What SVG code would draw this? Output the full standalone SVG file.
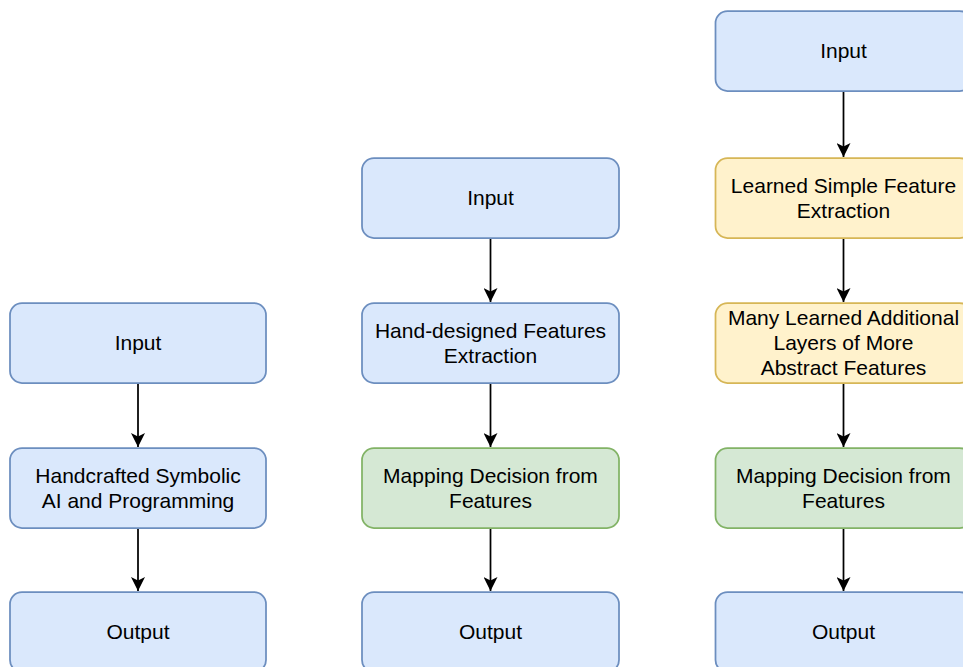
<svg xmlns="http://www.w3.org/2000/svg" width="963" height="667" viewBox="0 0 963 667">
  <style>
    .box { stroke-width: 1.75; }
    .blue { fill: #dae8fc; stroke: #6c8ebf; }
    .yellow { fill: #fff2cc; stroke: #d6b656; }
    .green { fill: #d5e8d4; stroke: #82b366; }
    text { font-family: "Liberation Sans", Arial, Helvetica, sans-serif; font-size: 21px; fill: #000000; text-anchor: middle; }
    .edge { stroke: #000000; stroke-width: 1.75; fill: none; marker-end: url(#arrow); }
  </style>
  <defs>
    <marker id="arrow" viewBox="0 0 14 14" refX="14" refY="7" markerWidth="14" markerHeight="14" markerUnits="userSpaceOnUse" orient="auto">
      <path d="M0,0 L14,7 L0,14 L3.5,7 Z" fill="#000000"/>
    </marker>
  </defs>

  <rect width="963" height="667" fill="#ffffff"/>

  <!-- connectors -->
  <g id="edges">
    <line class="edge" x1="138" y1="383" x2="138" y2="447"/>
    <line class="edge" x1="138" y1="528" x2="138" y2="591"/>

    <line class="edge" x1="490.5" y1="238" x2="490.5" y2="302"/>
    <line class="edge" x1="490.5" y1="383" x2="490.5" y2="447"/>
    <line class="edge" x1="490.5" y1="528" x2="490.5" y2="591"/>

    <line class="edge" x1="843.5" y1="91" x2="843.5" y2="157"/>
    <line class="edge" x1="843.5" y1="238" x2="843.5" y2="302"/>
    <line class="edge" x1="843.5" y1="383" x2="843.5" y2="447"/>
    <line class="edge" x1="843.5" y1="528" x2="843.5" y2="591"/>
  </g>

  <!-- column 1: symbolic AI -->
  <g id="c1-input">
    <rect class="box blue" x="10" y="303" width="256" height="80" rx="12"/>
    <text x="138" y="350">Input</text>
  </g>
  <g id="c1-symbolic">
    <rect class="box blue" x="10" y="448" width="256" height="80" rx="12"/>
    <text x="138" y="482.5">Handcrafted Symbolic</text>
    <text x="138" y="507.5">AI and Programming</text>
  </g>
  <g id="c1-output">
    <rect class="box blue" x="10" y="592" width="256" height="80" rx="12"/>
    <text x="138" y="639">Output</text>
  </g>

  <!-- column 2: classic machine learning -->
  <g id="c2-input">
    <rect class="box blue" x="362" y="158" width="257" height="80" rx="12"/>
    <text x="490.5" y="205">Input</text>
  </g>
  <g id="c2-features">
    <rect class="box blue" x="362" y="303" width="257" height="80" rx="12"/>
    <text x="490.5" y="337.5">Hand-designed Features</text>
    <text x="490.5" y="362.5">Extraction</text>
  </g>
  <g id="c2-mapping">
    <rect class="box green" x="362" y="448" width="257" height="80" rx="12"/>
    <text x="490.5" y="482.5">Mapping Decision from</text>
    <text x="490.5" y="507.5">Features</text>
  </g>
  <g id="c2-output">
    <rect class="box blue" x="362" y="592" width="257" height="80" rx="12"/>
    <text x="490.5" y="639">Output</text>
  </g>

  <!-- column 3: deep learning -->
  <g id="c3-input">
    <rect class="box blue" x="715.5" y="11" width="256" height="80" rx="12"/>
    <text x="843.5" y="58">Input</text>
  </g>
  <g id="c3-simple">
    <rect class="box yellow" x="715.5" y="158" width="256" height="80" rx="12"/>
    <text x="843.5" y="192.5">Learned Simple Feature</text>
    <text x="843.5" y="217.5">Extraction</text>
  </g>
  <g id="c3-layers">
    <rect class="box yellow" x="715.5" y="303" width="256" height="80" rx="12"/>
    <text x="843.5" y="325">Many Learned Additional</text>
    <text x="843.5" y="350">Layers of More</text>
    <text x="843.5" y="375">Abstract Features</text>
  </g>
  <g id="c3-mapping">
    <rect class="box green" x="715.5" y="448" width="256" height="80" rx="12"/>
    <text x="843.5" y="482.5">Mapping Decision from</text>
    <text x="843.5" y="507.5">Features</text>
  </g>
  <g id="c3-output">
    <rect class="box blue" x="715.5" y="592" width="256" height="80" rx="12"/>
    <text x="843.5" y="639">Output</text>
  </g>
</svg>
